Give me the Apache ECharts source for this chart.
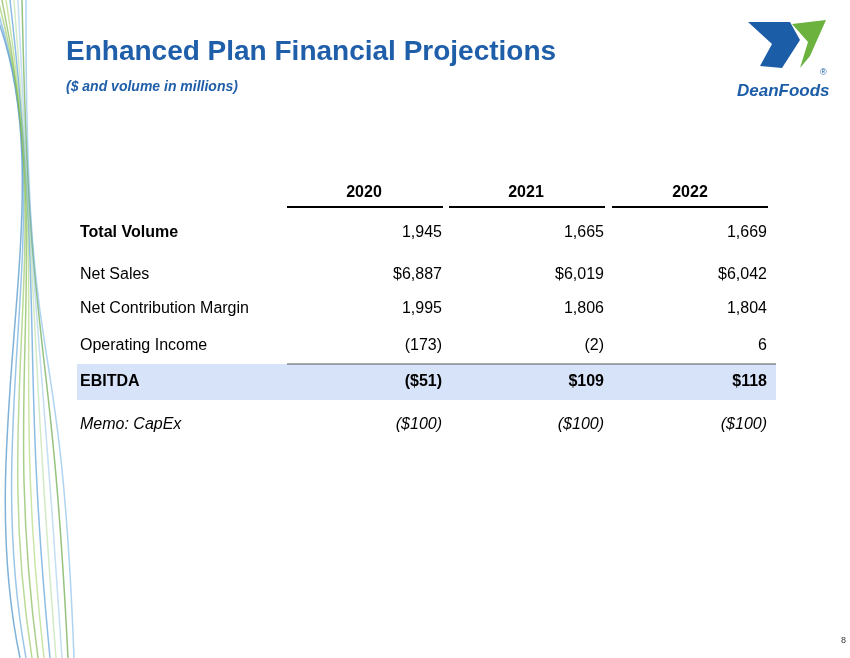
<!DOCTYPE html>
<html>
<head>
<meta charset="utf-8">
<script src="https://cdn.jsdelivr.net/npm/echarts@6/dist/echarts.min.js"></script>
<style>html,body{margin:0;padding:0;background:#fff}#main{width:850px;height:658px}</style>
</head>
<body>
<div id="main"></div>
<script>
var years = ['2020', '2021', '2022'];
var rowLabels = ['Total Volume', 'Net Sales', 'Net Contribution Margin', 'Operating Income', 'EBITDA', 'Memo: CapEx'];
var values2020 = ['1,945', '$6,887', '1,995', '(173)', '($51)', '($100)'];
var values2021 = ['1,665', '$6,019', '1,806', '(2)', '$109', '($100)'];
var values2022 = ['1,669', '$6,042', '1,804', '6', '$118', '($100)'];

var font = 'Liberation Sans, Arial, sans-serif';
var rowY = [233, 275, 309, 346, 382, 425];
var colRight = [442, 604, 767];
var colCenter = [364, 526, 690];
var cols = [values2020, values2021, values2022];

var els = [];

// decorative waves on the left
var waveColors = ['#2a7fc0', '#5aa0d6', '#8cc152', '#6fae3a', '#a9d36b', '#3d8fd0', '#b7dca0', '#9cc8ea', '#4f9a2a', '#7ab8e6'];
for (var i = 0; i < waveColors.length; i++) {
    els.push({
        type: 'bezierCurve',
        shape: {x1: -10 + i * 4, y1: 0, cpx1: 70 - i * 5, cpy1: 180 + i * 25, cpx2: -30 + i * 10, cpy2: 420 - i * 15, x2: 20 + i * 6, y2: 658},
        style: {stroke: waveColors[i], lineWidth: 1.5, opacity: 0.6, fill: null}
    });
}

els.push({type: 'text', left: 66, top: 38, style: {text: 'Enhanced Plan Financial Projections', font: 'bold 28px ' + font, fill: '#1f5ea8'}});
els.push({type: 'text', left: 66, top: 80, style: {text: '($ and volume in millions)', font: 'italic bold 14px ' + font, fill: '#1f5ea8'}});

// logo
els.push({type: 'polygon', shape: {points: [[748, 22], [790, 22], [800, 40], [782, 68], [760, 66], [772, 44]]}, style: {fill: '#1c5da8'}});
els.push({type: 'polygon', shape: {points: [[792, 24], [826, 20], [810, 56], [800, 68], [808, 42]]}, style: {fill: '#6bb23f'}});
els.push({type: 'text', left: 820, top: 68, style: {text: '®', font: '9px ' + font, fill: '#1c5da8'}});
els.push({type: 'text', left: 737, top: 83, style: {text: 'DeanFoods', font: 'italic bold 17px ' + font, fill: '#1c5da8'}});

// EBITDA band
els.push({type: 'rect', shape: {x: 77, y: 364, width: 699, height: 36}, style: {fill: '#d6e3f8'}});
els.push({type: 'line', shape: {x1: 287, y1: 364, x2: 776, y2: 364}, style: {stroke: '#555', lineWidth: 1}});

// headers
years.forEach(function (y, i) {
    els.push({type: 'text', x: colCenter[i], y: 193, style: {text: y, font: 'bold 16px ' + font, fill: '#000', align: 'center', verticalAlign: 'middle'}});
    els.push({type: 'line', shape: {x1: colRight[i] - 155, y1: 207, x2: colRight[i] + 1, y2: 207}, style: {stroke: '#000', lineWidth: 2}});
});

rowLabels.forEach(function (lab, r) {
    var bold = r === 0 || r === 4;
    var italic = r === 5;
    var f = (italic ? 'italic ' : '') + (bold ? 'bold ' : '') + '16px ' + font;
    els.push({type: 'text', x: 80, y: rowY[r], style: {text: lab, font: f, fill: '#000', verticalAlign: 'middle'}});
    cols.forEach(function (c, i) {
        var vf = (italic ? 'italic ' : '') + (r === 4 ? 'bold ' : '') + '16px ' + font;
        els.push({type: 'text', x: colRight[i], y: rowY[r], style: {text: c[r], font: vf, fill: '#000', align: 'right', verticalAlign: 'middle'}});
    });
});

els.push({type: 'text', x: 846, y: 641, style: {text: '8', font: '9px ' + font, fill: '#333', align: 'right', verticalAlign: 'middle'}});

var chart = echarts.init(document.getElementById('main'));
chart.setOption({animation: false, graphic: els});
</script>
</body>
</html>
